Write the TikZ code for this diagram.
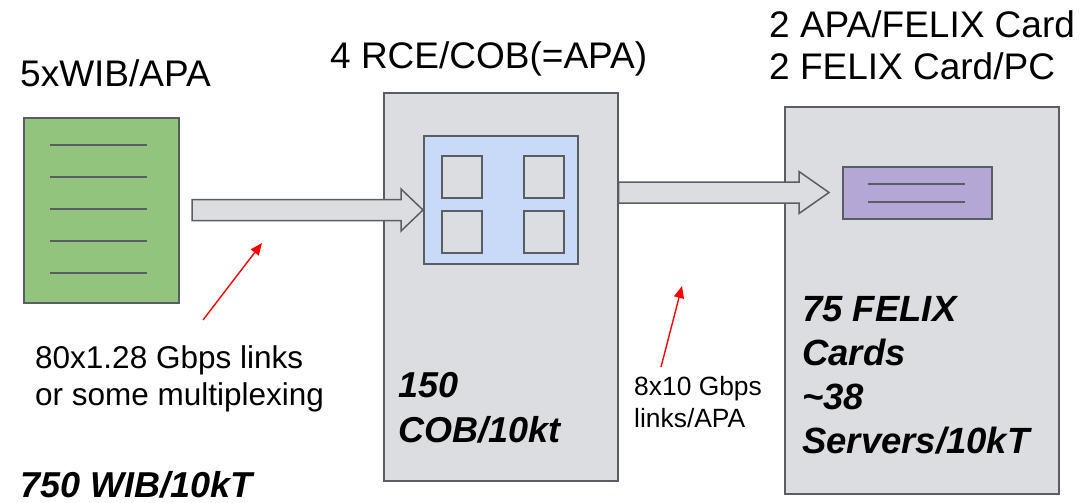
\documentclass[tikz,border=0pt]{standalone}
\usepackage{fontspec}
\setmainfont{Liberation Sans}
\usetikzlibrary{arrows.meta,calc}

\definecolor{boxgrey}{RGB}{220,221,224}
\definecolor{edgegrey}{RGB}{89,94,101}
\definecolor{wibgreen}{RGB}{147,196,125}
\definecolor{cobblue}{RGB}{201,218,248}
\definecolor{cardpurple}{RGB}{180,167,214}

\tikzset{
	box/.style={draw=edgegrey, line width=1.5pt, inner sep=0pt, anchor=north west},
	rule/.style={draw=edgegrey, line width=1.3pt},
	blockarrow/.style={draw=edgegrey, fill=boxgrey, line width=1.5pt, line join=miter},
	redarrow/.style={draw=red, line width=1.4pt, -{Triangle[length=12pt,width=10pt]}},
	bigtext/.style={font=\fontsize{37}{44}\selectfont, anchor=base west, align=left, inner sep=0pt},
	boldtext/.style={bigtext, font=\fontsize{36}{44.5}\selectfont\bfseries\itshape},
}

% block arrow: start, tip, head length
\newcommand{\blockarrow}[3]{%
	\draw[blockarrow] let \p1=(#1), \p2=(#2) in
		(\x1,{\y1+10.5pt}) -- ({\x2-#3},{\y1+10.5pt}) -- ({\x2-#3},{\y1+21pt})
		-- (\x2,\y1) -- ({\x2-#3},{\y1-21pt}) -- ({\x2-#3},{\y1-10.5pt})
		-- (\x1,{\y1-10.5pt}) -- cycle;}

\begin{document}
\begin{tikzpicture}[x=1pt,y=-1pt]
	\useasboundingbox (0,0) rectangle (1081,503);

	% WIB
	\node[box, fill=wibgreen, minimum width=155pt, minimum height=185pt] (wib) at (23,117) {};
	\foreach \y in {145,177,209,241,273}
		\draw[rule] (50,\y) -- (147,\y);

	% RCE / COB
	\node[box, fill=boxgrey, minimum width=234pt, minimum height=388pt] (rce) at (383,92) {};
	\node[box, fill=cobblue, minimum width=154pt, minimum height=128pt] (cob) at (423,135) {};
	\foreach \x in {441,523}
		\foreach \y in {155,210}
			\node[box, fill=boxgrey, minimum width=40pt, minimum height=42pt] at (\x,\y) {};

	% FELIX
	\node[box, fill=boxgrey, minimum width=274pt, minimum height=387pt] (felix) at (784,106) {};
	\node[box, fill=cardpurple, minimum width=149pt, minimum height=52pt] (card) at (842,166) {};
	\draw[rule] (868,184) -- (965,184);
	\draw[rule] (868,202) -- (965,202);

	% links
	\coordinate (a1s) at (192,210);
	\coordinate (a1e) at (cob.west |- a1s);
	\blockarrow{a1s}{a1e}{22pt}
	\coordinate (a2s) at (rce.east |- 0,192.5);
	\coordinate (a2e) at (829,192.5);
	\blockarrow{a2s}{a2e}{30pt}

	% texts (base = last line)
	\node[bigtext] (wibtitle) at (20,86) {5xWIB/APA};
	\node[bigtext] (rcetitle) at (330,68) {4 RCE/COB(=APA)};
	\node[bigtext, font=\fontsize{37}{43}\selectfont] (felixtitle) at (769,80) {2 APA/FELIX Card\\2 FELIX Card/PC};
	\node[bigtext, font=\fontsize{31.5}{37}\selectfont] (wiblinks) at (35,405) {80x1.28 Gbps links\\or some multiplexing};
	\node[bigtext, font=\fontsize{26.4}{32}\selectfont] (coblinks) at (634,427) {8x10 Gbps\\links/APA};
	\node[boldtext] (cobcount) at (398,442) {150\\COB/10kt};
	\node[boldtext, font=\fontsize{36.5}{43.7}\selectfont\bfseries\itshape] (felixcount) at (802,453) {75 FELIX\\Cards\\\textasciitilde38\\Servers/10kT};
	\node[boldtext] (wibcount) at (20,497) {750 WIB/10kT};

	% red pointers
	\coordinate (r1s) at (203,320);
	\coordinate (r1e) at (262,243);
	\draw[redarrow] (r1s) -- (r1e);
	\coordinate (r2s) at (661,367);
	\coordinate (r2e) at (682,286);
	\draw[redarrow] (r2s) -- (r2e);
\end{tikzpicture}
\end{document}
